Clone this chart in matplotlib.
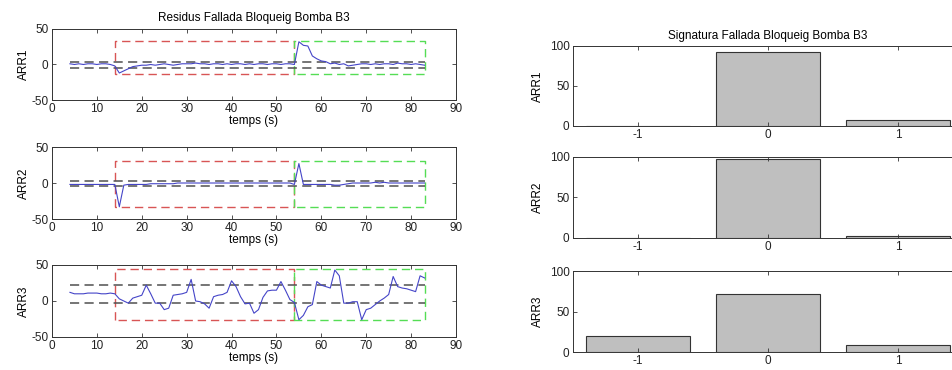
import matplotlib.pyplot as plt
import numpy as np

plt.rcParams['font.family'] = ['Liberation Sans', 'DejaVu Sans']
plt.rcParams['font.size'] = 8.5
plt.rcParams['axes.unicode_minus'] = False

# temps (s)
t = np.arange(4, 84)

arr1 = [1, 0, 1, 0, 1, 1, 0, 1, 1, 0,
        -2, -12, -9, -6, -3, -2, -1, -1, 0, -1,
        0, 1, 0, -1, 0, 1, 1, 1, 2, 1,
        1, 0, 1, 1, 0, 1, 0, 1, 1, 0,
        1, 0, 1, 1, 0, 1, 1, 0, 1, 1,
        0, 32, 27, 26, 12, 8, 5, 4, 1, 2,
        0, 1, -2, -1, 0, 1, 1, 0, 1, 0,
        1, 1, 0, 2, 1, 1, 0, 1, 0, -1]

arr2 = [-2, -2, -2, -2, -2, -2, -2, -2, -2, -2,
        -2, -33, -3, -2, -2, -2, -2, -2, -1, -1,
        -1, -1, -1, -1, 0, 0, 0, 0, 0, 0,
        0, 0, 0, 0, 0, 0, 0, 0, 0, 0,
        0, 0, 0, 0, 0, 0, 0, 0, 0, 0,
        -2, 27, -2, -2, -2, -2, -2, -2, -2, -3,
        -3, -2, -1, 0, 0, 0, 0, 0, 1, 0,
        1, 0, 0, 0, 0, 0, 0, 0, 0, 0]

arr3 = [12, 10, 10, 10, 11, 11, 11, 10, 10, 11,
        10, 3, 0, -3, 4, 6, 8, 22, 10, -3,
        -3, -12, -10, 8, 9, 10, 12, 30, 0, -1,
        -4, -10, 6, 8, 9, 12, 28, 20, 6, -4,
        -3, -17, -12, 5, 14, 15, 15, 27, 15, 2,
        -2, -26, -20, -8, -5, 27, 22, 20, 18, 43,
        35, -3, -3, -1, -1, -26, -12, -10, -5, 0,
        4, 9, 34, 20, 18, 17, 15, 13, 35, 32]

residus = [arr1, arr2, arr3]
thresholds = [(4, -5), (3, -3.5), (22, -3)]
box_y = [(-14, 33), (-33, 30), (-26, 45)]
t_fault = 14
t_switch = 54
t_end = 83

# signature histogram
sig_x = [-1, 0, 1]
sig_vals = [[0, 93, 7.5],
            [0, 97.5, 2.5],
            [19.5, 72, 9]]

names = ['ARR1', 'ARR2', 'ARR3']

fig = plt.figure(figsize=(9.52, 3.70), dpi=100)

left_pos = [[0.0546, 0.7297, 0.4244, 0.192],
            [0.0546, 0.4081, 0.4244, 0.1946],
            [0.0546, 0.0892, 0.4244, 0.1946]]
right_pos = [[0.6019, 0.6595, 0.4097, 0.2162],
             [0.6019, 0.3568, 0.4097, 0.2189],
             [0.6019, 0.0486, 0.4097, 0.2189]]


def matlab_style(ax):
    ax.tick_params(direction='in', top=True, right=True, length=3,
                   width=0.6, colors='#333333', labelcolor='#222222', pad=2.5)
    for s in ax.spines.values():
        s.set_linewidth(0.7)
        s.set_color('#333333')


dash = (6, 3.5)

for i in range(3):
    ax = fig.add_axes(left_pos[i])
    lo, hi = box_y[i]
    ax.plot([t_fault, t_fault, t_switch, t_switch, t_fault],
            [lo, hi, hi, lo, lo], color='#d85555', lw=1, dashes=dash)
    ax.plot([t_switch, t_switch, t_end, t_end, t_switch],
            [lo, hi, hi, lo, lo], color='#55dd55', lw=1, dashes=dash)
    thr_hi, thr_lo = thresholds[i]
    ax.plot([t[0], t[-1]], [thr_hi, thr_hi], color='#505050', lw=1.1, dashes=dash)
    ax.plot([t[0], t[-1]], [thr_lo, thr_lo], color='#505050', lw=1.1, dashes=dash)
    ax.plot(t, residus[i], color='#4545c8', lw=0.8)
    ax.set_xlim(0, 90)
    ax.set_ylim(-50, 50)
    ax.set_xticks(range(0, 91, 10))
    ax.set_yticks([-50, 0, 50])
    ax.set_ylabel(names[i], labelpad=1)
    ax.set_xlabel('temps (s)', labelpad=0)
    matlab_style(ax)
    if i == 0:
        ax.set_title('Residus Fallada Bloqueig Bomba B3', fontsize=8.5, pad=6)

for i in range(3):
    ax = fig.add_axes(right_pos[i])
    ax.bar(sig_x, sig_vals[i], width=0.8, color='#bfbfbf',
           edgecolor='#333333', linewidth=0.8)
    ax.set_xlim(-1.5, 1.5)
    ax.set_ylim(0, 100)
    ax.set_xticks(sig_x)
    ax.set_yticks([0, 50, 100])
    ax.set_ylabel(names[i], labelpad=4)
    matlab_style(ax)
    if i == 0:
        ax.set_title('Signatura Fallada Bloqueig Bomba B3', fontsize=8.5, pad=5)

fig.savefig('out.png', dpi=100)
